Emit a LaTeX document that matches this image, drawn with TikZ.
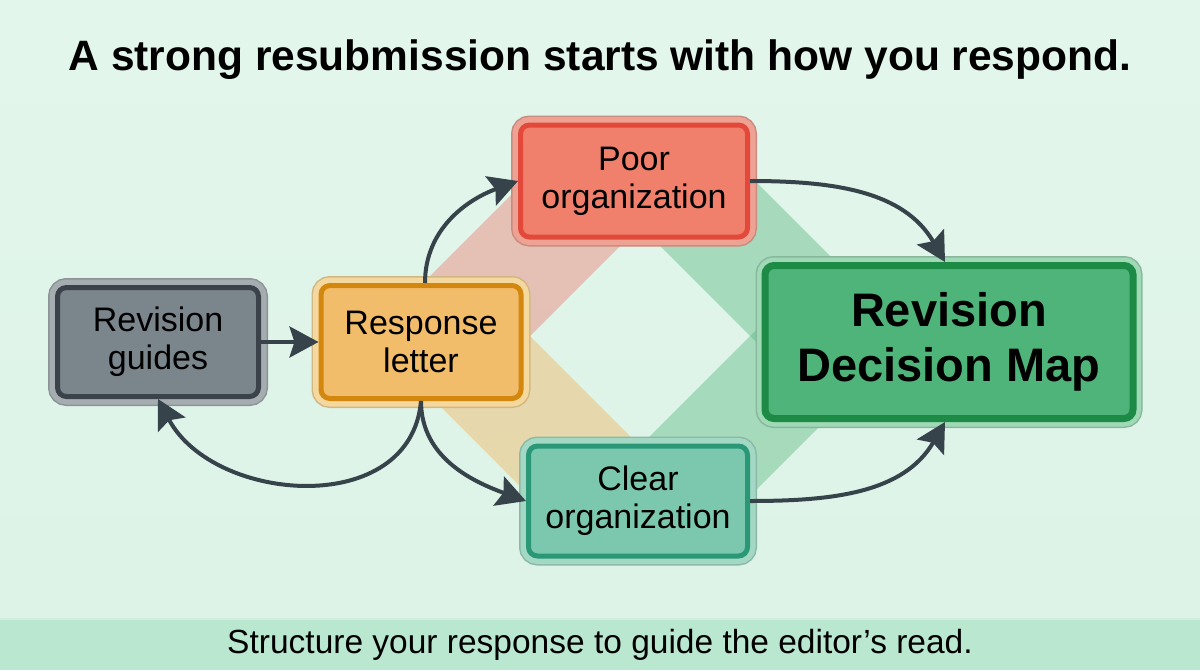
\documentclass[tikz,border=0pt]{standalone}
\usepackage{fontspec}
\setmainfont{Liberation Sans}
\usepackage{tikz}
\usetikzlibrary{arrows.meta, positioning}

\definecolor{bgtop}{HTML}{E3F6EC}
\definecolor{bgbot}{HTML}{DDF3E7}
\definecolor{footband}{HTML}{B9E7D0}
\definecolor{arrowgray}{HTML}{37434B}

\definecolor{guidefill}{HTML}{7B858C}
\definecolor{guideline}{HTML}{3B4249}
\definecolor{guidehalo}{HTML}{A5ADB1}
\definecolor{letterfill}{HTML}{F2BD6B}
\definecolor{letterline}{HTML}{D4870F}
\definecolor{letterhalo}{HTML}{F5D89D}
\definecolor{poorfill}{HTML}{F0806B}
\definecolor{poorline}{HTML}{E2493A}
\definecolor{poorhalo}{HTML}{EEA293}
\definecolor{clearfill}{HTML}{7CC8AE}
\definecolor{clearline}{HTML}{2A9877}
\definecolor{clearhalo}{HTML}{A3D9C4}
\definecolor{mapfill}{HTML}{4FB479}
\definecolor{mapline}{HTML}{1D8A45}
\definecolor{maphalo}{HTML}{A0D9B6}

\begin{document}
\begin{tikzpicture}[x=1pt, y=1pt,
    box/.style={rectangle, rounded corners=9pt, line width=5pt, align=center,
        font=\fontsize{34}{38}\selectfont, text=black},
    halo/.style={preaction={draw=#1!85!black, line width=19pt, rounded corners=9pt},
        preaction={draw=#1, line width=16pt, rounded corners=9pt}},
    band/.style={fill=#1, fill opacity=0.45, draw=none},
    flow/.style={draw=arrowgray, line width=4pt, -{Stealth[length=29pt, width=31pt, inset=5pt]}}]
        % Background
        \useasboundingbox (0,0) rectangle (1200,-670);
        \shade[top color=bgtop, bottom color=bgbot] (0,0) rectangle (1200,-618);
        \fill[footband] (0,-618) rectangle (1200,-670);
        \draw[white, opacity=0.35, line width=2pt] (0,-619) -- (1200,-619);

        % Title
        \node[font=\fontsize{42.5}{48}\selectfont\bfseries] (title) at (600,-60) {A strong resubmission starts with how you respond.};

        % Bands behind the boxes
        \fill[band=poorline!70] (405,-301) -- (570,-136) -- (650,-216) -- (485,-381) -- cycle;
        \fill[band=mapfill!90] (710,-136) -- (875,-301) -- (795,-381) -- (630,-216) -- cycle;
        \fill[band=letterfill!90!letterline] (405,-371) -- (570,-536) -- (650,-456) -- (485,-291) -- cycle;
        \fill[band=mapfill!90] (710,-536) -- (875,-371) -- (795,-291) -- (630,-456) -- cycle;

        % Boxes
        \node[box, halo=guidehalo, draw=guideline, fill=guidefill, minimum width=201pt, minimum height=109pt] (guides) at (158,-342) {Revision\\guides};
        \node[box, halo=letterhalo, draw=letterline, fill=letterfill, minimum width=200pt, minimum height=113pt] (letter) at (421,-342) {Response\\letter};
        \node[box, halo=poorhalo, draw=poorline, fill=poorfill, minimum width=227pt, minimum height=112pt] (poor) at (634,-181) {Poor\\organization};
        \node[box, halo=clearhalo, draw=clearline, fill=clearfill, minimum width=219pt, minimum height=110pt] (clear) at (638,-501) {Clear\\organization};
        \node[box, halo=maphalo, draw=mapline, fill=mapfill, line width=7pt, minimum width=368pt, minimum height=153pt,
            font=\fontsize{47}{55}\selectfont\bfseries] (map) at (949,-342) {Revision\\Decision Map};

        % Connectors
        \draw[flow] (guides) -- (letter);
        \draw[flow] ([xshift=4pt]letter.north) to[out=90, in=200] (poor.west);
        \draw[flow] (letter.south) to[out=-90, in=160] (clear.west);
        \draw[flow] (letter.south) to[out=-95, in=-62, looseness=1.15] (guides.south);
        \draw[flow] (poor.east) to[out=0, in=120] ([xshift=-4pt]map.north);
        \draw[flow] (clear.east) to[out=0, in=-120] ([xshift=-4pt]map.south);

        % Footer
        \node[font=\fontsize{33.5}{38}\selectfont] (footer) at (600,-645) {Structure your response to guide the editor’s read.};
    \end{tikzpicture}
\end{document}
